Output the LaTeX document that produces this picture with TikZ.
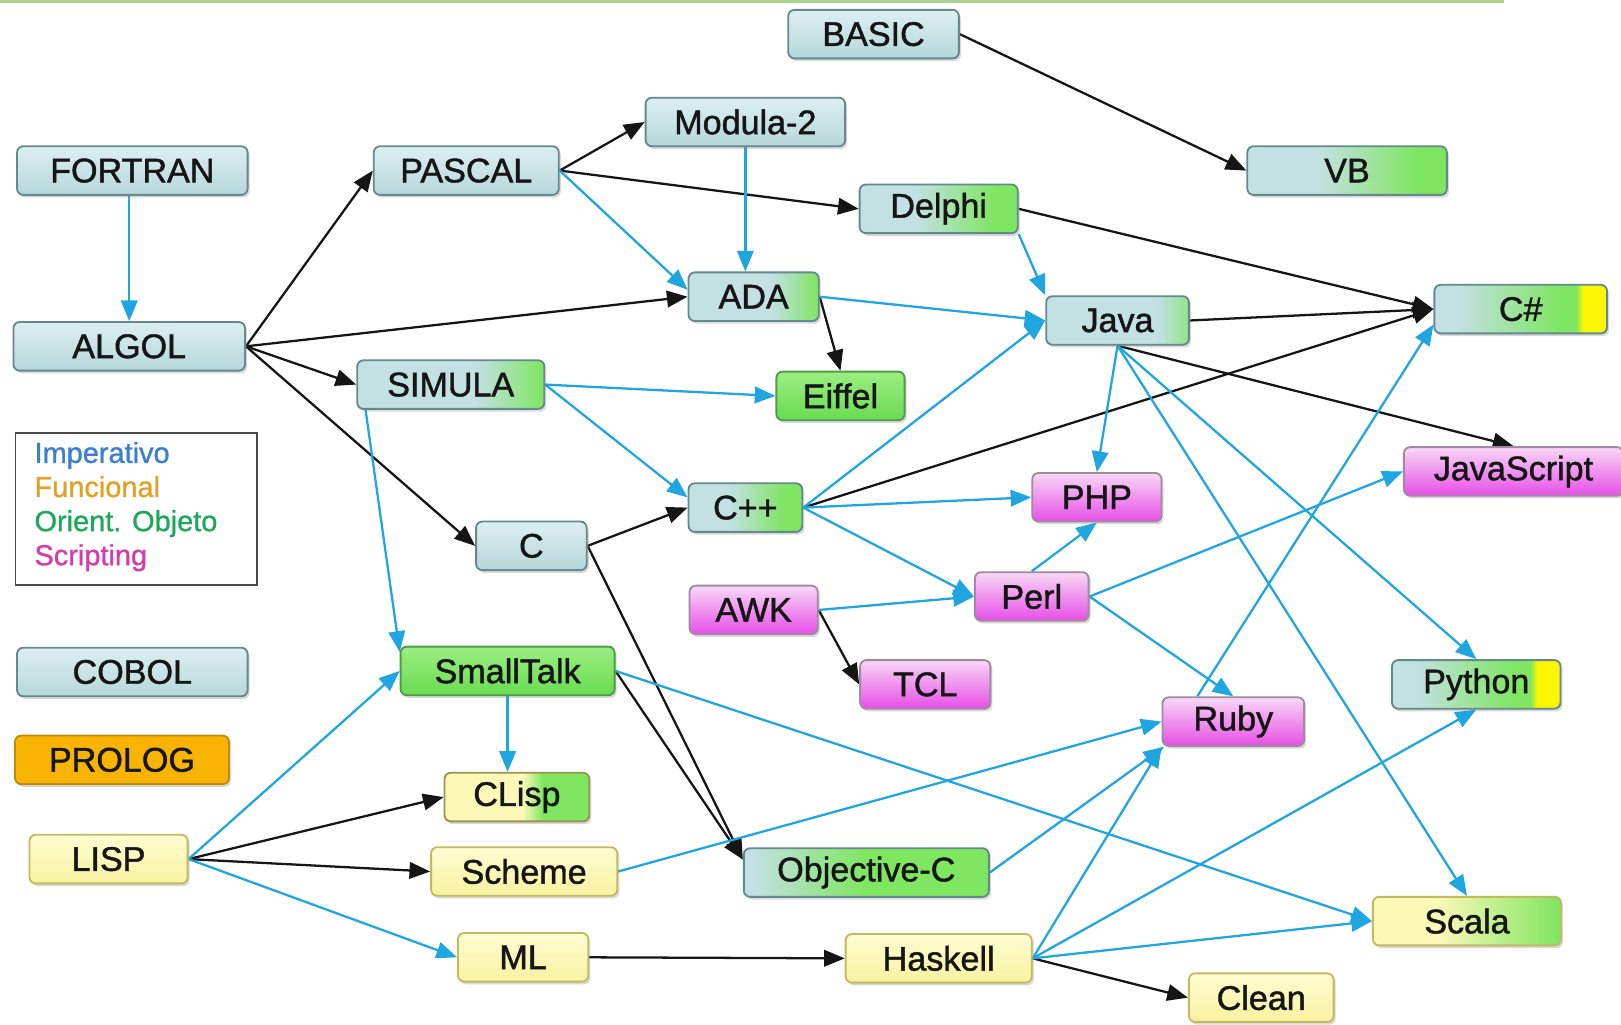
\documentclass[tikz,border=0pt]{standalone}
\usepackage{fontspec}
\setmainfont{Liberation Sans}
\newfontfamily\nodefont{Liberation Sans}[FakeBold=1.3]
\newfontfamily\legfont{Liberation Sans}[FakeBold=1.0]
\usetikzlibrary{arrows.meta,shadows,calc}

% palette
\definecolor{txt}{HTML}{161616}
\definecolor{nbl}{HTML}{C3E0E2}
\definecolor{bltop}{HTML}{DDEFF0}
\definecolor{blbot}{HTML}{B6D7DA}
\definecolor{bdb}{HTML}{648A8D}
\definecolor{ngr}{HTML}{7EE660}
\definecolor{grtop}{HTML}{9AEE80}
\definecolor{grbot}{HTML}{6ADC52}
\definecolor{bdg}{HTML}{4E9C46}
\definecolor{nyl}{HTML}{FCF8B8}
\definecolor{yltop}{HTML}{FEFCD2}
\definecolor{ylbot}{HTML}{F8F2A0}
\definecolor{bdy}{HTML}{C2BB5E}
\definecolor{nyy}{HTML}{FAF500}
\definecolor{mgtop}{HTML}{F8D8F6}
\definecolor{mgbot}{HTML}{E64EE6}
\definecolor{bdm}{HTML}{A08AA0}
\definecolor{orfill}{HTML}{F8B400}
\definecolor{bdo}{HTML}{C08A10}
\definecolor{ebl}{HTML}{1FA5E0}
\definecolor{ebk}{HTML}{151515}
\definecolor{limp}{HTML}{3A7FD0}
\definecolor{lfun}{HTML}{E0A225}
\definecolor{loo}{HTML}{1EA85C}
\definecolor{lscr}{HTML}{D63CA8}
\definecolor{lgb}{HTML}{4A4A4A}
\definecolor{topline}{HTML}{A9D391}

% horizontal fills mixing paradigms (node spans 25bp..75bp)
\pgfdeclarehorizontalshading{shBGlate}{100bp}{color(0bp)=(nbl); color(57bp)=(nbl); color(75bp)=(ngr); color(100bp)=(ngr)}
\pgfdeclarehorizontalshading{shBGjava}{100bp}{color(0bp)=(nbl); color(64bp)=(nbl); color(75bp)=(ngr!70!nbl); color(100bp)=(ngr!70!nbl)}
\pgfdeclarehorizontalshading{shBGmid}{100bp}{color(0bp)=(nbl); color(43bp)=(nbl); color(68bp)=(ngr); color(100bp)=(ngr)}
\pgfdeclarehorizontalshading{shBGearly}{100bp}{color(0bp)=(nbl); color(27bp)=(nbl); color(50bp)=(ngr); color(100bp)=(ngr)}
\pgfdeclarehorizontalshading{shBGY}{100bp}{color(0bp)=(nbl); color(32bp)=(nbl); color(62bp)=(ngr); color(66bp)=(ngr); color(68bp)=(nyy); color(100bp)=(nyy)}
\pgfdeclarehorizontalshading{shYGsharp}{100bp}{color(0bp)=(nyl); color(52bp)=(nyl); color(59bp)=(ngr); color(100bp)=(ngr)}
\pgfdeclarehorizontalshading{shYG}{100bp}{color(0bp)=(nyl); color(42bp)=(nyl); color(75bp)=(ngr); color(100bp)=(ngr)}

\pgfdeclarelayer{bg}
\pgfsetlayers{bg,main}

\tikzset{
  lang/.style={rounded corners=3pt, line width=0.9pt, minimum height=23.5pt,
    inner sep=0pt, text=txt, font=\nodefont\fontsize{16.5}{19}\selectfont,
    drop shadow={shadow xshift=1pt, shadow yshift=-1.3pt, opacity=0.3}},
  imp/.style={lang, draw=bdb, top color=bltop, bottom color=blbot},
  oo/.style={lang, draw=bdg, top color=grtop, bottom color=grbot},
  fun/.style={lang, draw=bdy, top color=yltop, bottom color=ylbot},
  scr/.style={lang, draw=bdm, top color=mgtop, bottom color=mgbot},
  logic/.style={lang, draw=bdo, fill=orfill},
  bglate/.style={lang, draw=bdb, shading=shBGlate},
  bgjava/.style={lang, draw=bdb, shading=shBGjava},
  bgmid/.style={lang, draw=bdb, shading=shBGmid},
  bgearly/.style={lang, draw=bdb, shading=shBGearly},
  bgy/.style={lang, draw=bdb, shading=shBGY},
  ygsharp/.style={lang, draw=bdy!80!black, shading=shYGsharp},
  yg/.style={lang, draw=bdy, shading=shYG},
  bk/.style={draw=ebk, line width=1.1pt, -{Triangle[length=10pt,width=8pt]}},
  bl/.style={draw=ebl, line width=1.1pt, -{Triangle[length=10pt,width=8pt]}},
}

\begin{document}
\begin{tikzpicture}[x=0.5pt,y=-0.5pt]
\begin{pgfonlayer}{bg}
  \path[fill=white] (0,0) rectangle (1568,991);
\end{pgfonlayer}
\useasboundingbox (0,0) rectangle (1568,991);

% rule along the top
\draw[topline, line width=1.5pt] (0,1) -- (1455,1);

% languages
\node[imp, minimum width=82.5pt] (basic) at (845,33) {BASIC};
\node[imp, minimum width=96.5pt] (modula) at (721,118) {Modula-2};
\node[imp, minimum width=111.5pt] (fortran) at (128,165) {FORTRAN};
\node[imp, minimum width=89.5pt] (pascal) at (451,165) {PASCAL};
\node[bgmid, minimum width=96.5pt] (vb) at (1303,165) {VB};
\node[bgmid, minimum width=76.5pt] (delphi) at (908,202) {Delphi};
\node[bglate, minimum width=63pt] (ada) at (729,287) {ADA};
\node[bgjava, minimum width=69pt] (java) at (1081,310) {Java};
\node[bgy, minimum width=83.5pt] (csharp) at (1471,299) {C\#};
\node[imp, minimum width=112pt] (algol) at (125,335) {ALGOL};
\node[bglate, minimum width=90.5pt] (simula) at (436,372) {SIMULA};
\node[oo, minimum width=62pt] (eiffel) at (813,383) {Eiffel};
\node[scr, minimum width=106pt] (javascript) at (1464,456) {JavaScript};
\node[scr, minimum width=62.5pt] (php) at (1061,481) {PHP};
\node[bgmid, minimum width=55pt] (cpp) at (721,491) {C++};
\node[imp, minimum width=53.5pt] (c) at (514,528) {C};
\node[scr, minimum width=62pt] (awk) at (729,590) {AWK};
\node[scr, minimum width=55pt] (perl) at (998,577) {Perl};
\node[imp, minimum width=111.5pt] (cobol) at (128,650) {COBOL};
\node[oo, minimum width=103.5pt] (smalltalk) at (491,649) {SmallTalk};
\node[scr, minimum width=63pt] (tcl) at (895,662) {TCL};
\node[bgy, minimum width=81.5pt] (python) at (1428,662) {Python};
\node[scr, minimum width=68.5pt] (ruby) at (1193,698) {Ruby};
\node[logic, minimum width=103.5pt] (prolog) at (118,735) {PROLOG};
\node[ygsharp, minimum width=70pt] (clisp) at (500,771) {CLisp};
\node[fun, minimum width=76.5pt] (lisp) at (105,831) {LISP};
\node[fun, minimum width=90pt] (scheme) at (507,843) {Scheme};
\node[bgearly, minimum width=118.5pt] (objc) at (838,844) {Objective-C};
\node[yg, minimum width=91pt] (scala) at (1419,891) {Scala};
\node[fun, minimum width=63pt] (ml) at (506,926) {ML};
\node[fun, minimum width=90pt] (haskell) at (908,927) {Haskell};
\node[fun, minimum width=70pt] (clean) at (1220,965) {Clean};

% legend
\node[draw=lgb, line width=0.9pt, minimum width=117pt, minimum height=73.5pt, inner sep=0pt] (legend) at (132,492.5) {};
\node[anchor=west, align=left, inner sep=0pt, font=\legfont\fontsize{14}{16.5}\selectfont] (legtext) at (33,490)
  {\textcolor{limp}{Imperativo}\\\textcolor{lfun}{Funcional}\\\textcolor{loo}{Orient. Objeto}\\\textcolor{lscr}{Scripting}};

\begin{pgfonlayer}{bg}
% direct descendants
\draw[bk] (basic.east) -- (vb.west);
\draw[bk] (pascal.east) -- (modula.west);
\draw[bk] (pascal.east) -- (delphi.west);
\draw[bk] (algol.east) -- (pascal.west);
\draw[bk] (algol.east) -- (ada.west);
\draw[bk] (algol.east) -- (simula.west);
\draw[bk] (algol.east) -- (c.west);
\draw[bk] (ada.east) -- (eiffel.north);
\draw[bk] (delphi.east) -- (csharp.west);
\draw[bk] (java.east) -- (csharp.west);
\draw[bk] (cpp.east) -- (csharp.west);
\draw[bk] (java.south) -- (javascript.north);
\draw[bk] (c.east) -- (cpp.west);
\draw[bk] (c.east) -- (objc.174);
\draw[bk] (smalltalk.east) -- (objc.174);
\draw[bk] (awk.east) -- (tcl.west);
\draw[bk] (lisp.east) -- (clisp.west);
\draw[bk] (lisp.east) -- (scheme.west);
\draw[bk] (ml.east) -- (haskell.west);
\draw[bk] (haskell.east) -- (clean.west);

% influences
\draw[bl] (algol.north |- fortran.south) -- (algol.north);
\draw[bl] (pascal.east) -- (ada.174);
\draw[bl] (modula.south) -- (modula.south |- ada.north);
\draw[bl] (ada.east) -- (java.west);
\draw[bl] (delphi.south east) -- (java.north west);
\draw[bl] (simula.east) -- (eiffel.west);
\draw[bl] (simula.east) -- (cpp.170);
\draw[bl] ($(simula.south west)+(9,0)$) -- (smalltalk.170);
\draw[bl] (cpp.east) -- (java.west);
\draw[bl] (cpp.east) -- (php.west);
\draw[bl] (cpp.east) -- (perl.west);
\draw[bl] (java.south) -- (php.north);
\draw[bl] (java.south) -- (python.north);
\draw[bl] (java.south) -- (scala.north);
\draw[bl] (ruby.145) -- (csharp.190);
\draw[bl] (perl.north) -- (php.south);
\draw[bl] (perl.east) -- (javascript.west);
\draw[bl] (awk.east) -- (perl.west);
\draw[bl] (perl.east) -- (ruby.north);
\draw[bl] (smalltalk.south) -- (smalltalk.south |- clisp.north);
\draw[bl] (smalltalk.east) -- (scala.west);
\draw[bl] (lisp.east) -- (smalltalk.west);
\draw[bl] (lisp.east) -- (ml.west);
\draw[bl] (scheme.east) -- (ruby.west);
\draw[bl] (objc.east) -- (ruby.200);
\draw[bl] (haskell.east) -- (ruby.south west);
\draw[bl] (haskell.east) -- (python.south);
\draw[bl] (haskell.east) -- (scala.west);
\end{pgfonlayer}
\end{tikzpicture}
\end{document}
